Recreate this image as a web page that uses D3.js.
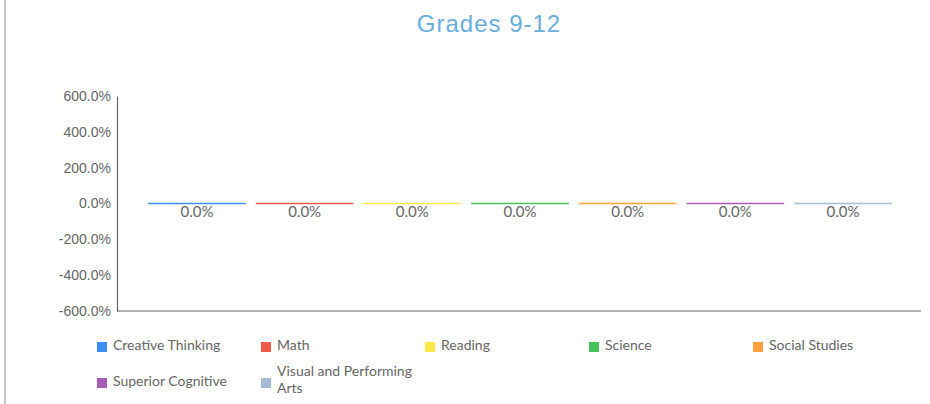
<!DOCTYPE html>
<meta charset="utf-8">
<style>
body { margin: 0; background: #fff; }
svg { display: block; font-family: Lato, "Open Sans", sans-serif; }
.tick text { fill: #666; font-size: 14px; }
.label { fill: #666; font-size: 15px; text-anchor: middle; }
.legend text { fill: #666; font-size: 14px; }
</style>
<svg width="930" height="404"></svg>
<script src="https://d3js.org/d3.v7.min.js"></script>
<script>

var title = "Grades 9-12";
var categories = ["Grades 9-12"];
var series = ["Creative Thinking", "Math", "Reading", "Science", "Social Studies", "Superior Cognitive", "Visual and Performing Arts"];
var values = [0, 0, 0, 0, 0, 0, 0];
var colors = ["#3a8ef0", "#f0584a", "#ffe84a", "#48c55a", "#ffa03e", "#a85cb8", "#a6bbd8"];
var yTicks = [-6, -4, -2, 0, 2, 4, 6];

var pct = d3.formatLocale({decimal: ".", thousands: ",", grouping: [3], currency: ["", ""], minus: "-"}).format(".1%");

var svg = d3.select("svg");

// left frame line
svg.append("line")
    .attr("x1", 5).attr("x2", 5)
    .attr("y1", 0).attr("y2", 404)
    .attr("stroke", "#c8c8c8").attr("stroke-width", 2);

svg.append("text")
    .attr("x", 489).attr("y", 32)
    .attr("text-anchor", "middle")
    .attr("fill", "#6aaee0")
    .style("font-family", "'Liberation Sans', Arial, sans-serif")
    .style("font-size", "24px")
    .style("letter-spacing", "1px")
    .text(title);

var margin = {left: 117, right: 9, top: 96, bottom: 93};
var width = 930 - margin.left - margin.right,
    height = 404 - margin.top - margin.bottom;

var g = svg.append("g").attr("transform", "translate(" + margin.left + "," + margin.top + ")");

var y = d3.scaleLinear().domain([-6, 6]).range([height, 0]);
var x0 = d3.scaleBand().domain(categories).range([0, width]).paddingOuter(0.0334).paddingInner(0).align(0.52);
var x1 = d3.scaleBand().domain(series).range([0, x0.bandwidth()]).paddingInner(0.0926).paddingOuter(0.0463);

g.append("g")
    .call(d3.axisLeft(y).tickValues(yTicks).tickSize(0).tickPadding(6).tickFormat(pct))
    .call(function(a) {
      a.select(".domain").attr("stroke", "#666").attr("stroke-width", 1.2);
    });

g.append("line")
    .attr("x1", 0).attr("x2", width)
    .attr("y1", y(-6)).attr("y2", y(-6))
    .attr("stroke", "#666").attr("stroke-width", 1.2);

var data = series.map(function(s, i) { return {cat: categories[0], name: s, value: values[i], color: colors[i]}; });

var bars = g.selectAll(".bar").data(data).enter().append("g")
    .attr("class", "bar")
    .attr("transform", function(d) { return "translate(" + x0(d.cat) + ",0)"; });

bars.append("rect")
    .attr("x", function(d) { return x1(d.name); })
    .attr("y", function(d) { return Math.min(y(d.value), y(0)); })
    .attr("width", x1.bandwidth())
    .attr("height", function(d) { return Math.abs(y(d.value) - y(0)); })
    .attr("fill", function(d) { return d.color; });

// top edge of each bar (all values are zero, so this is what shows)
bars.append("line")
    .attr("x1", function(d) { return x1(d.name); })
    .attr("x2", function(d) { return x1(d.name) + x1.bandwidth(); })
    .attr("y1", function(d) { return y(d.value); })
    .attr("y2", function(d) { return y(d.value); })
    .attr("stroke", function(d) { return d.color; })
    .attr("stroke-width", 1.5);

bars.append("text")
    .attr("class", "label")
    .attr("x", function(d) { return x1(d.name) + x1.bandwidth() / 2; })
    .attr("y", function(d) { return y(d.value) + 13; })
    .text(function(d) { return pct(d.value); });

// legend
var legend = svg.append("g").attr("class", "legend");
var items = legend.selectAll("g").data(data).enter().append("g")
    .attr("transform", function(d, i) {
      return "translate(" + (97 + (i % 5) * 164) + "," + (342 + Math.floor(i / 5) * 36) + ")";
    });

items.append("rect")
    .attr("width", 10).attr("height", 10)
    .attr("fill", function(d) { return d.color; });

items.append("text")
    .attr("x", 16)
    .attr("y", 8)
    .each(function(d) {
      var t = d3.select(this);
      if (d.name == "Visual and Performing Arts") {
        t.append("tspan").attr("x", 16).attr("y", -2).text("Visual and Performing");
        t.append("tspan").attr("x", 16).attr("y", 15).text("Arts");
      } else {
        t.text(d.name);
      }
    });

</script>
